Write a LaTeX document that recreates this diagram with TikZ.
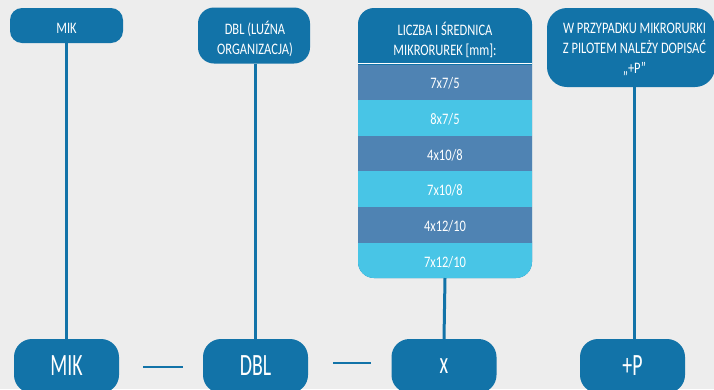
\documentclass[tikz,border=0pt]{standalone}
\usepackage{fontspec}
\setmainfont{Carlito}[FakeStretch=0.78]
\newfontfamily\bigfont{Carlito}[FakeStretch=0.64]
\definecolor{bg}{HTML}{EDEDED}
\definecolor{navy}{HTML}{1273A8}
\definecolor{rowdark}{HTML}{4F83B3}
\definecolor{rowlight}{HTML}{48C5E6}
\begin{document}
\begin{tikzpicture}[x=1pt,y=-1pt,
  topbox/.style={fill=navy, rounded corners=12pt, inner sep=0pt},
  toptxt/.style={text=white, align=center, inner sep=0pt, font=\fontsize{16}{20}\selectfont},
  botbox/.style={fill=navy, rounded corners=18pt, text=white, inner sep=0pt,
    minimum width=105pt, minimum height=54pt, font=\bigfont\fontsize{31}{33}\selectfont},
  rowtxt/.style={text=white, inner sep=0pt, font=\fontsize{16}{20}\selectfont},
  link/.style={draw=navy, line width=3pt},
  dashlink/.style={draw=navy, line width=2.5pt}]
\useasboundingbox (0,0) rectangle (714,389);
\clip (0,0) rectangle (714,389);
\fill[bg] (0,0) rectangle (714,389);

% bottom boxes
\node[botbox] (bmik) at (66.5,366) {MIK};
\node[botbox] (bdbl) at (255.5,366) {DBL};
\node[botbox] (bx)   at (444,366) {x};
\node[botbox] (bp)   at (632.5,366) {+P};

% top boxes
\node[topbox, minimum width=113pt, minimum height=35pt] (tmik) at (66.5,25.5) {};
\node[toptxt] (tmikt) at (66.5,28) {MIK};
\node[topbox, rounded corners=16pt, minimum width=112pt, minimum height=56pt] (tdbl) at (254,35.5) {};
\node[toptxt] (tdblt) at (255,38.5) {DBL (LUŹNA\\ORGANIZACJA)};
\node[topbox, rounded corners=20pt, minimum width=168pt, minimum height=79pt] (tp) at (631,47.5) {};
\node[toptxt] (tpt) at (634.5,50) {W PRZYPADKU MIKRORURKI\\Z PILOTEM NALEŻY DOPISAĆ\\„+P”};

% column of diameters
\fill[navy, rounded corners=16pt] (358,8) rectangle (532,278);
\fill[rowlight, rounded corners=16pt] (358,225) rectangle (532,278);
\fill[rowdark]  (358,64.5) rectangle (532,100);
\fill[rowlight] (358,100) rectangle (532,136);
\fill[rowdark]  (358,136) rectangle (532,171);
\fill[rowlight] (358,171) rectangle (532,207);
\fill[rowdark]  (358,207) rectangle (532,243);
\draw[white, line width=1.5pt] (358,63.5) -- (532,63.5);
\node[rowtxt, align=center] (hdr) at (445,39.5) {LICZBA I ŚREDNICA\\MIKRORUREK [mm]:};
\node[rowtxt] (r1) at (445,83.5) {7x7/5};
\node[rowtxt] (r2) at (445,119.5) {8x7/5};
\node[rowtxt] (r3) at (445,155) {4x10/8};
\node[rowtxt] (r4) at (445,190.5) {7x10/8};
\node[rowtxt] (r5) at (445,226.5) {4x12/10};
\node[rowtxt] (r6) at (445,262) {7x12/10};
\coordinate (colbot) at (445,278);

% vertical connectors
\draw[link] (tmik.south) -- (bmik.north);
\draw[link] (tdbl.south -| tdblt) -- (tdblt |- bdbl.north);
\draw[link] (colbot) -- (bx.north);
\draw[link] (tpt |- tp.south) -- (tpt |- bp.north);

% dashes
\draw[dashlink, shorten <=24pt, shorten >=20pt] ([yshift=-1pt]bmik.east) -- ([yshift=-1pt]bdbl.west);
\draw[dashlink, shorten <=25pt, shorten >=20pt] ([yshift=3pt]bdbl.east) -- ([yshift=3pt]bx.west);
\end{tikzpicture}
\end{document}
